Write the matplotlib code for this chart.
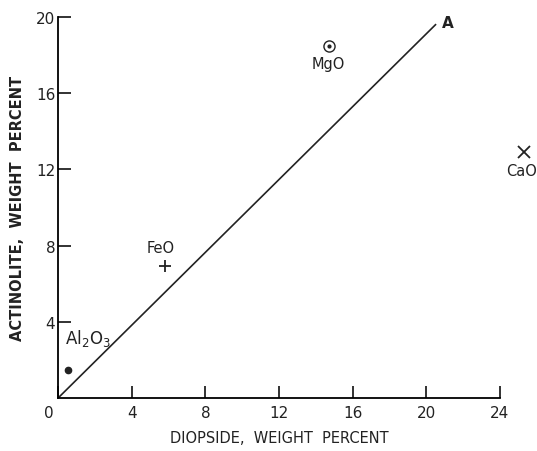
import matplotlib.pyplot as plt

# data
oxides   = ['MgO', 'CaO', 'FeO', 'Al$_2$O$_3$']
diopside = [14.7, 25.3, 5.8, 0.55]
actinol  = [18.5, 12.9, 6.95, 1.5]
markers  = ['circdot', 'x', '+', 'o']

line_x = [0, 20.5]
line_y = [0, 19.6]

xticks = [0, 4, 8, 12, 16, 20, 24]
yticks = [4, 8, 12, 16, 20]

plt.rcParams.update({
    'font.family': 'DejaVu Sans',
    'axes.linewidth': 1.3,
    'xtick.major.width': 1.3,
    'ytick.major.width': 1.3,
})

fig = plt.figure(figsize=(5.37, 4.52), dpi=100)
ax = fig.add_axes([0.108, 0.117, 0.823, 0.843])

ax.plot(line_x, line_y, color='#222222', lw=1.2)
ax.text(line_x[1] + 0.35, line_y[1] + 0.1, 'A', fontsize=11, fontweight='bold',
        ha='left', va='center', color='#222222')

for name, xv, yv, m in zip(oxides, diopside, actinol, markers):
    if m == 'circdot':
        ax.plot(xv, yv, 'o', ms=8, mfc='white', mec='#222222', mew=1.0, clip_on=False)
        ax.plot(xv, yv, 'o', ms=2, color='#222222', clip_on=False)
    elif m == 'o':
        ax.plot(xv, yv, 'o', ms=4.5, color='#222222', clip_on=False)
    else:
        ax.plot(xv, yv, m, ms=8, mew=1.3, color='#222222', clip_on=False)

lab = dict(fontsize=10.5, color='#222222', ha='center')
ax.text(diopside[0], actinol[0] - 0.55, oxides[0], va='top', **lab)
ax.text(diopside[1] - 0.1, actinol[1] - 0.55, oxides[1], va='top', **lab)
ax.text(diopside[2] - 0.2, actinol[2] + 0.55, oxides[2], va='bottom', **lab)
ax.text(1.6, 3.2, oxides[3], va='center', fontsize=12, color='#222222', ha='center')

ax.set_xlim(0, 24)
ax.set_ylim(0, 20)
ax.set_xticks(xticks)
ax.set_yticks(yticks)
ax.tick_params(direction='in', length=9, labelsize=11, colors='#222222', pad=5)
ax.tick_params(axis='y', pad=2)
ax.text(-0.25, -0.35, '0', fontsize=11, ha='right', va='top', color='#222222')
ax.set_xticklabels(['' if t == 0 else str(t) for t in xticks])

for s in ['top', 'right']:
    ax.spines[s].set_visible(False)

ax.set_xlabel('DIOPSIDE,  WEIGHT  PERCENT', fontsize=10.5, labelpad=7, color='#222222')
ax.set_ylabel('ACTINOLITE,  WEIGHT  PERCENT', fontsize=10.5, fontweight='bold',
              labelpad=8, color='#222222')

fig.savefig('out.png', dpi=100)
